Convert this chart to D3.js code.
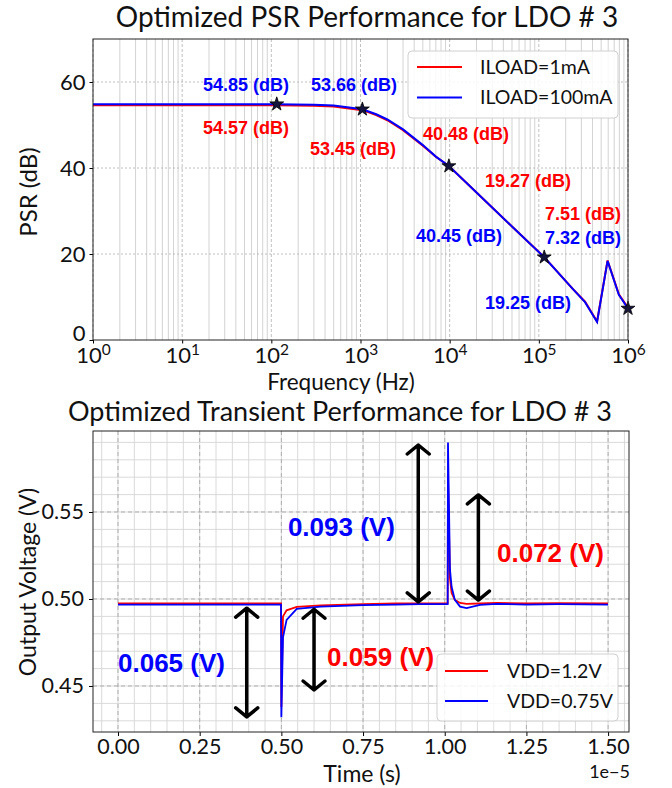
<!DOCTYPE html>
<html>
<head>
<meta charset="utf-8">
<script src="https://cdn.jsdelivr.net/npm/d3@7"></script>
<style>
body { margin: 0; background: #fff; }
text { font-family: Lato, "Noto Sans", sans-serif; fill: #111; }
</style>
</head>
<body>
<div id="chart"></div>
<script>
// ---- PSR sweep (frequency in Hz, PSR in dB) ----
const freq      = [1, 10, 112, 300, 500, 1050, 1500, 2000, 3000, 5000, 7000, 9800, 20000, 50000, 115000, 240000, 330000, 450000, 590000, 790000, 1000000];
const psr1mA    = [54.57, 54.57, 54.57, 54.5, 54.3, 53.45, 52.3, 51.1, 48.8, 45.2, 42.6, 40.48, 34.3, 26.4, 19.27, 11.9, 8.9, 4.3, 18.5, 10.6, 7.51];
const psr100mA  = [54.85, 54.85, 54.85, 54.72, 54.52, 53.66, 52.5, 51.28, 48.97, 45.32, 42.65, 40.45, 34.3, 26.4, 19.25, 11.9, 8.8, 4.2, 18.4, 10.5, 7.32];
const starFreq  = [115, 1050, 9800, 115000, 1000000];
const starPsr   = [54.85, 53.66, 40.45, 19.25, 7.32];
const psrLegend = ["ILOAD=1mA", "ILOAD=100mA"];

// annotation texts, anchored (left, middle) at data coordinates
const psrNoteText  = ["54.85 (dB)", "53.66 (dB)", "54.57 (dB)", "53.45 (dB)", "40.48 (dB)", "19.27 (dB)", "7.51 (dB)", "40.45 (dB)", "7.32 (dB)", "19.25 (dB)"];
const psrNoteF     = [17.1, 278, 17.1, 271, 5020, 24900, 117000, 4190, 117000, 24900];
const psrNoteV     = [59.3, 59.3, 49.3, 44.4, 47.9, 37.0, 29.3, 24.2, 23.9, 8.6];
const psrNoteColor = ["blue", "blue", "red", "red", "red", "red", "red", "blue", "blue", "blue"];

// ---- load transient (time in 1e-5 s, voltage in V) ----
const time     = [0, 0.499, 0.5, 0.505, 0.516, 0.547, 0.62, 0.75, 0.85, 0.924, 1.009, 1.01, 1.016, 1.021, 1.031, 1.047, 1.067, 1.108, 1.16, 1.25, 1.35, 1.5];
const vdd12    = [0.4975, 0.4975, 0.438, 0.490, 0.4935, 0.4955, 0.4963, 0.4970, 0.4974, 0.4975, 0.4975, 0.569, 0.512, 0.5034, 0.4995, 0.4977, 0.4972, 0.4974, 0.4977, 0.4975, 0.4976, 0.4975];
const vdd075   = [0.4968, 0.4968, 0.432, 0.478, 0.488, 0.4943, 0.4956, 0.4965, 0.4968, 0.497, 0.497, 0.590, 0.517, 0.507, 0.4995, 0.4956, 0.4948, 0.4966, 0.4972, 0.4968, 0.497, 0.4968];
const vddLegend = ["VDD=1.2V", "VDD=0.75V"];

const arrowT  = [0.394, 0.6, 0.919, 1.103];
const arrowLo = [0.4322, 0.4477, 0.4984, 0.4994];
const arrowHi = [0.4947, 0.4941, 0.5885, 0.5598];

const trNoteText  = ["0.093 (V)", "0.072 (V)", "0.059 (V)", "0.065 (V)"];
const trNoteT     = [0.52, 1.16, 0.64, 0.0];
const trNoteV     = [0.5414, 0.5264, 0.4667, 0.4632];
const trNoteColor = ["blue", "red", "red", "blue"];

const svg = d3.select("#chart").append("svg")
  .attr("width", 672)
  .attr("height", 788)
  .style("background", "#fff");

// ================= top: PSR =================
const box1 = { left: 93, right: 628, top: 39, bottom: 340 };

const x1 = d3.scaleLog().domain([1, 1e6]).range([box1.left, box1.right]);
const y1 = d3.scaleLinear().domain([0, 70]).range([box1.bottom, box1.top]);

const g1 = svg.append("g");

// minor + major vertical grid
const allTicks = x1.ticks();
const majors = [1, 10, 100, 1e3, 1e4, 1e5, 1e6];
g1.selectAll(".vminor").data(allTicks.filter(d => !majors.includes(d)))
  .enter().append("line")
  .attr("x1", d => x1(d)).attr("x2", d => x1(d))
  .attr("y1", box1.top).attr("y2", box1.bottom)
  .attr("stroke", "#c8c8c8").attr("stroke-width", 0.8);
g1.selectAll(".vmajor").data(majors)
  .enter().append("line")
  .attr("x1", d => x1(d)).attr("x2", d => x1(d))
  .attr("y1", box1.top).attr("y2", box1.bottom)
  .attr("stroke", "#b0b0b0").attr("stroke-width", 0.8).attr("stroke-dasharray", "3,2");
g1.selectAll(".hmajor").data([20, 40, 60])
  .enter().append("line")
  .attr("x1", box1.left).attr("x2", box1.right)
  .attr("y1", d => y1(d)).attr("y2", d => y1(d))
  .attr("stroke", "#b0b0b0").attr("stroke-width", 0.8).attr("stroke-dasharray", "2,2");

const psrLine = d3.line().x((d, i) => x1(freq[i])).y(d => y1(d));

g1.append("path").datum(psr1mA)
  .attr("fill", "none").attr("stroke", "red").attr("stroke-width", 2)
  .attr("d", psrLine);
g1.append("path").datum(psr100mA)
  .attr("fill", "none").attr("stroke", "blue").attr("stroke-width", 2)
  .attr("d", psrLine);

g1.selectAll(".star").data(starFreq)
  .enter().append("path")
  .attr("d", d3.symbol().type(d3.symbolStar).size(60))
  .attr("transform", (d, i) => `translate(${x1(d)},${y1(starPsr[i])})`)
  .attr("fill", "#14143c").attr("stroke", "#000").attr("stroke-width", 0.8);

g1.selectAll(".note").data(psrNoteText)
  .enter().append("text")
  .attr("x", (d, i) => x1(psrNoteF[i]))
  .attr("y", (d, i) => y1(psrNoteV[i]))
  .attr("dy", "0.35em")
  .style("font-family", "'Liberation Sans', Arial, sans-serif")
  .style("font-weight", "bold")
  .style("font-size", "18px")
  .style("fill", (d, i) => psrNoteColor[i])
  .text(d => d);

// axes
const ax1 = g1.append("g")
  .attr("transform", `translate(0,${box1.bottom})`)
  .call(d3.axisBottom(x1).tickValues(majors).tickSize(3.5).tickPadding(4));
ax1.selectAll("text").each(function(d) {
  const t = d3.select(this).text(null).style("font-size", "22px");
  t.append("tspan").text("10");
  t.append("tspan").attr("dy", "-0.5em").style("font-size", "15.5px").text(Math.round(Math.log10(d)));
});
const ay1 = g1.append("g")
  .attr("transform", `translate(${box1.left},0)`)
  .call(d3.axisLeft(y1).tickValues([0, 20, 40, 60]).tickSize(3.5).tickPadding(4));
ay1.selectAll("text").style("font-size", "22px");
ay1.selectAll("text").filter(d => d === 0).attr("dy", "0em");
[ax1, ay1].forEach(a => a.select(".domain").remove());

g1.append("rect")
  .attr("x", box1.left).attr("y", box1.top)
  .attr("width", box1.right - box1.left).attr("height", box1.bottom - box1.top)
  .attr("fill", "none").attr("stroke", "#222").attr("stroke-width", 1);

// legend
const lg1 = g1.append("g").attr("transform", "translate(408,51)");
lg1.append("rect").attr("width", 210).attr("height", 67).attr("rx", 4)
  .attr("fill", "rgba(255,255,255,0.85)").attr("stroke", "#d0d0d0");
psrLegend.forEach((name, i) => {
  lg1.append("line").attr("x1", 9).attr("x2", 54)
    .attr("y1", 16 + i * 30.5).attr("y2", 16 + i * 30.5)
    .attr("stroke", i ? "blue" : "red").attr("stroke-width", 2);
  lg1.append("text").attr("x", 72).attr("y", 16 + i * 30.5).attr("dy", "0.35em")
    .style("font-size", "19.5px").text(name);
});

svg.append("text").attr("x", 367).attr("y", 27).attr("text-anchor", "middle")
  .style("font-size", "28px").text("Optimized PSR Performance for LDO # 3");
svg.append("text").attr("x", 341).attr("y", 390).attr("text-anchor", "middle")
  .style("font-size", "22.5px").text("Frequency (Hz)");
svg.append("text").attr("transform", "translate(37,192) rotate(-90)").attr("text-anchor", "middle")
  .style("font-size", "24px").text("PSR (dB)");

// ================= bottom: transient =================
const box2 = { left: 93, right: 629, top: 431, bottom: 732 };

const x2 = d3.scaleLinear().domain([-0.0765, 1.564]).range([box2.left, box2.right]);
const y2 = d3.scaleLinear().domain([0.42356, 0.59655]).range([box2.bottom, box2.top]);

const g2 = svg.append("g");

const xMinor = d3.range(-0.05, 1.56, 0.05);
const yMinor = d3.range(0.43, 0.597, 0.01);
g2.selectAll(".vminor").data(xMinor)
  .enter().append("line")
  .attr("x1", d => x2(d)).attr("x2", d => x2(d))
  .attr("y1", box2.top).attr("y2", box2.bottom)
  .attr("stroke", "#d6d6d6").attr("stroke-width", 0.9);
g2.selectAll(".hminor").data(yMinor)
  .enter().append("line")
  .attr("x1", box2.left).attr("x2", box2.right)
  .attr("y1", d => y2(d)).attr("y2", d => y2(d))
  .attr("stroke", "#d6d6d6").attr("stroke-width", 0.9);
const xMajor = [0, 0.25, 0.5, 0.75, 1.0, 1.25, 1.5];
const yMajor = [0.45, 0.5, 0.55];
g2.selectAll(".vmajor").data(xMajor)
  .enter().append("line")
  .attr("x1", d => x2(d)).attr("x2", d => x2(d))
  .attr("y1", box2.top).attr("y2", box2.bottom)
  .attr("stroke", "#a8a8a8").attr("stroke-width", 0.9).attr("stroke-dasharray", "4,3");
g2.selectAll(".hmajor").data(yMajor)
  .enter().append("line")
  .attr("x1", box2.left).attr("x2", box2.right)
  .attr("y1", d => y2(d)).attr("y2", d => y2(d))
  .attr("stroke", "#a8a8a8").attr("stroke-width", 0.9).attr("stroke-dasharray", "4,3");

const trLine = d3.line().x((d, i) => x2(time[i])).y(d => y2(d));
g2.append("path").datum(vdd12)
  .attr("fill", "none").attr("stroke", "red").attr("stroke-width", 1.8)
  .attr("d", trLine);
g2.append("path").datum(vdd075)
  .attr("fill", "none").attr("stroke", "blue").attr("stroke-width", 1.8)
  .attr("d", trLine);

// double-headed arrows
g2.selectAll(".arrow").data(arrowT)
  .enter().append("path")
  .attr("d", (d, i) => {
    const x = x2(d), top = y2(arrowHi[i]), bot = y2(arrowLo[i]);
    return `M${x},${top}L${x},${bot}` +
      `M${x - 11},${top + 9}L${x},${top}L${x + 11},${top + 9}` +
      `M${x - 11},${bot - 9}L${x},${bot}L${x + 11},${bot - 9}`;
  })
  .attr("fill", "none").attr("stroke", "#000").attr("stroke-width", 3.5)
  .attr("stroke-linejoin", "round").attr("stroke-linecap", "round");

g2.selectAll(".note").data(trNoteText)
  .enter().append("text")
  .attr("x", (d, i) => x2(trNoteT[i]))
  .attr("y", (d, i) => y2(trNoteV[i]))
  .attr("dy", "0.35em")
  .style("font-family", "'Liberation Sans', Arial, sans-serif")
  .style("font-weight", "bold")
  .style("font-size", "26px")
  .style("fill", (d, i) => trNoteColor[i])
  .text(d => d);

const ax2 = g2.append("g")
  .attr("transform", `translate(0,${box2.bottom})`)
  .call(d3.axisBottom(x2).tickValues(xMajor).tickFormat(d3.format(".2f")).tickSize(4).tickPadding(3));
const ay2 = g2.append("g")
  .attr("transform", `translate(${box2.left},0)`)
  .call(d3.axisLeft(y2).tickValues(yMajor).tickFormat(d3.format(".2f")).tickSize(4).tickPadding(5));
[ax2, ay2].forEach(a => {
  a.select(".domain").remove();
  a.selectAll("text").style("font-size", "21.5px");
});

g2.append("rect")
  .attr("x", box2.left).attr("y", box2.top)
  .attr("width", box2.right - box2.left).attr("height", box2.bottom - box2.top)
  .attr("fill", "none").attr("stroke", "#222").attr("stroke-width", 1);

const lg2 = g2.append("g").attr("transform", "translate(437,654)");
lg2.append("rect").attr("width", 181).attr("height", 67).attr("rx", 4)
  .attr("fill", "rgba(255,255,255,0.85)").attr("stroke", "#d0d0d0");
vddLegend.forEach((name, i) => {
  lg2.append("line").attr("x1", 8).attr("x2", 51)
    .attr("y1", 17 + i * 30).attr("y2", 17 + i * 30)
    .attr("stroke", i ? "blue" : "red").attr("stroke-width", 1.8);
  lg2.append("text").attr("x", 70).attr("y", 17 + i * 30).attr("dy", "0.35em")
    .style("font-size", "19.5px").text(name);
});

svg.append("text").attr("x", 340).attr("y", 421).attr("text-anchor", "middle")
  .style("font-size", "27px").text("Optimized Transient Performance for LDO # 3");
svg.append("text").attr("x", 362).attr("y", 782).attr("text-anchor", "middle")
  .style("font-size", "23px").text("Time (s)");
svg.append("text").attr("x", 630).attr("y", 778).attr("text-anchor", "end")
  .style("font-size", "18px").text("1e\u22125");
svg.append("text").attr("transform", "translate(36,582) rotate(-90)").attr("text-anchor", "middle")
  .style("font-size", "23px").text("Output Voltage (V)");
</script>
</body>
</html>
